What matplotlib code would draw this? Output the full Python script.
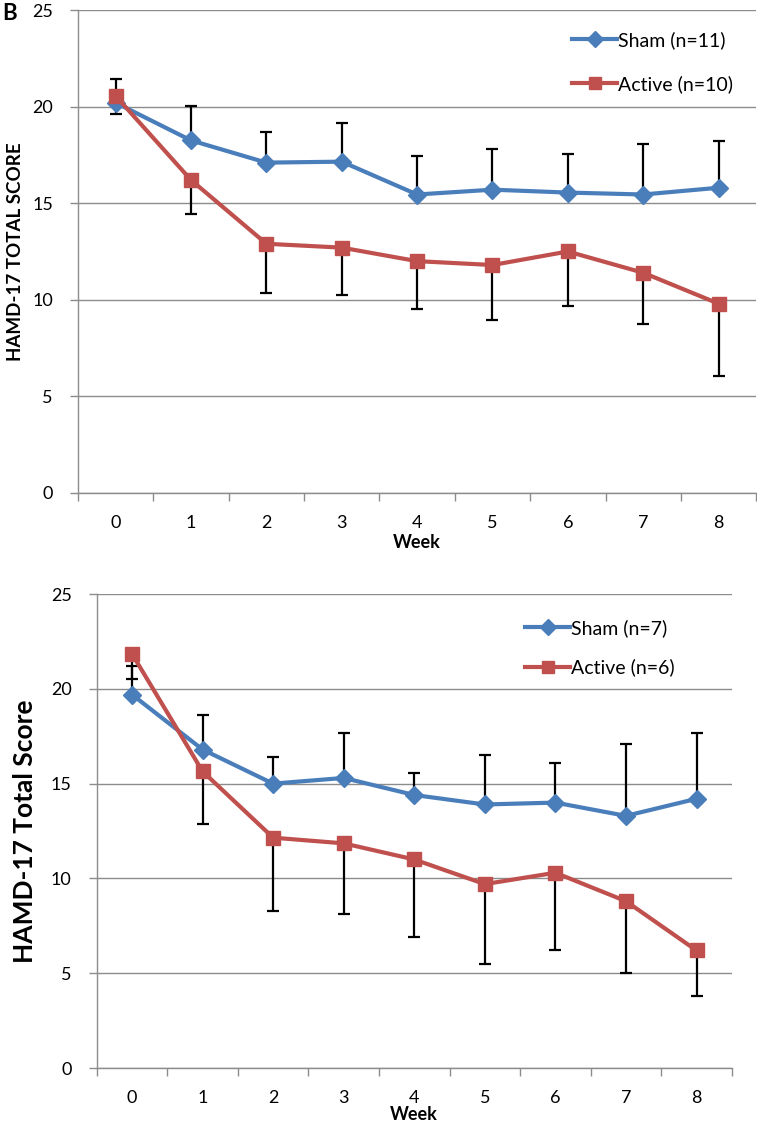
import numpy as np
import matplotlib
matplotlib.use('Agg')
import matplotlib.pyplot as plt

plt.rcParams['font.family'] = ['Lato', 'DejaVu Sans']

# Дані: тижні та середні бали HAMD-17
weeks = [0, 1, 2, 3, 4, 5, 6, 7, 8]
week_labels = ['0', '1', '2', '3', '4', '5', '6', '7', '8']

# Панель A (верхня)
sham_a = [20.2, 18.25, 17.1, 17.15, 15.45, 15.7, 15.55, 15.45, 15.8]
sham_a_err = [1.25, 1.8, 1.6, 2.0, 2.0, 2.1, 2.0, 2.6, 2.4]
active_a = [20.55, 16.2, 12.9, 12.7, 12.0, 11.8, 12.5, 11.4, 9.8]
active_a_err = [0.95, 1.75, 2.55, 2.45, 2.5, 2.85, 2.8, 2.65, 3.75]

# Панель B (нижня)
sham_b = [19.7, 16.8, 15.0, 15.3, 14.4, 13.9, 14.0, 13.3, 14.2]
sham_b_err = [1.5, 1.8, 1.4, 2.35, 1.15, 2.6, 2.1, 3.8, 3.45]
active_b = [21.85, 15.65, 12.15, 11.85, 11.0, 9.7, 10.3, 8.8, 6.2]
active_b_err = [1.35, 2.8, 3.85, 3.7, 4.1, 4.2, 4.05, 3.8, 2.4]

blue = '#4A7EBB'
red = '#C0504D'
grid_col = '#8C8C8C'


def draw_panel(ax, sham, sham_err, active, active_err, lab_sham, lab_active,
               leg_anchor, leg_space):
    zeros = np.zeros(len(weeks))
    ax.errorbar(weeks, sham, yerr=[zeros, sham_err], fmt='none', ecolor='black',
                elinewidth=1.6, capsize=4.5, capthick=1.6, zorder=3)
    ax.errorbar(weeks, active, yerr=[active_err, zeros], fmt='none', ecolor='black',
                elinewidth=1.6, capsize=4.5, capthick=1.6, zorder=3)
    ax.plot(weeks, sham, color=blue, lw=3, marker='D', ms=9.5, label=lab_sham, zorder=4)
    ax.plot(weeks, active, color=red, lw=3, marker='s', ms=10.5, label=lab_active, zorder=5)

    ax.set_xlim(-0.5, 8.5)
    ax.set_ylim(0, 25)
    ax.set_yticks(np.arange(0, 26, 5))
    ax.yaxis.grid(True, color=grid_col, lw=1)
    ax.set_axisbelow(True)

    # категорійна вісь як в Excel: риски між категоріями
    ax.set_xticks(np.arange(-0.5, 9, 1))
    ax.set_xticklabels([])
    ax.set_xticks(weeks, minor=True)
    ax.set_xticklabels(week_labels, minor=True)
    ax.tick_params(axis='x', which='major', length=6, width=1, color=grid_col)
    ax.tick_params(axis='x', which='minor', length=0, pad=16, labelsize=13)
    ax.tick_params(axis='y', length=6, width=1, color=grid_col, pad=12, labelsize=13)

    for s in ['top', 'right']:
        ax.spines[s].set_visible(False)
    for s in ['left', 'bottom']:
        ax.spines[s].set_color(grid_col)
        ax.spines[s].set_linewidth(1)

    leg = ax.legend(loc='upper right', bbox_to_anchor=leg_anchor, frameon=False,
                    fontsize=14, handlelength=2.3, handletextpad=0.05,
                    labelspacing=leg_space, borderaxespad=0, borderpad=0)
    for h in leg.legend_handles:
        h.set_markersize(8)


fig = plt.figure(figsize=(7.57, 11.24), dpi=100)

ax1 = fig.add_axes([0.103, 0.5614, 0.896, 0.4297])
draw_panel(ax1, sham_a, sham_a_err, active_a, active_a_err,
           'Sham (n=11)', 'Active (n=10)', (0.966, 0.957), 1.35)
ax1.set_xlabel('Week', fontsize=13, fontweight='bold', labelpad=2)
ax1.set_ylabel('HAMD-17 TOTAL SCORE', fontsize=13.5, fontweight='bold', labelpad=6)

ax2 = fig.add_axes([0.1277, 0.0498, 0.839, 0.4217])
draw_panel(ax2, sham_b, sham_b_err, active_b, active_b_err,
           'Sham (n=7)', 'Active (n=6)', (0.91, 0.947), 1.1)
ax2.set_xlabel('Week', fontsize=13, fontweight='bold', labelpad=0)
ax2.set_ylabel('HAMD-17 Total Score', fontsize=19, fontweight='bold', labelpad=10)

fig.text(0.003, 0.997, 'B', fontsize=16, fontweight='bold', va='top', ha='left')

fig.savefig('out.png', dpi=100)
